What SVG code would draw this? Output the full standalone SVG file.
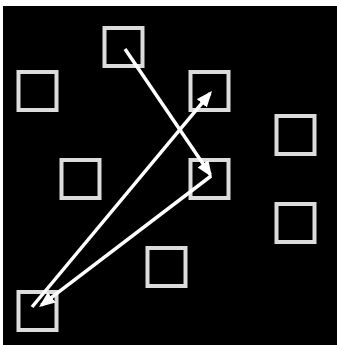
<svg xmlns="http://www.w3.org/2000/svg" width="337" height="345" viewBox="0 0 337 345">
<style>
.sq{fill:none;stroke:#dcdcdc;stroke-width:4}
.ln{stroke:#ffffff;stroke-width:3.5;fill:none}
</style>
<defs>
<marker id="ah" markerUnits="userSpaceOnUse" markerWidth="17" markerHeight="14" refX="13" refY="7" orient="auto">
<path d="M0,0.5 L16,7 L0,13.5 z" fill="#ffffff"/>
</marker>
</defs>
<rect x="0" y="0" width="337" height="345" fill="#ffffff"/>
<rect x="3" y="6" width="334" height="339" fill="#000000"/>
<g id="n1"><rect class="sq" x="104.5" y="28" width="38" height="38"/></g>
<g id="n2"><rect class="sq" x="18.5" y="72" width="38" height="38"/></g>
<g id="n3"><rect class="sq" x="190.5" y="72" width="38" height="38"/></g>
<g id="n4"><rect class="sq" x="276.5" y="116" width="38" height="38"/></g>
<g id="n5"><rect class="sq" x="61.5" y="160" width="38" height="38"/></g>
<g id="n6"><rect class="sq" x="190.5" y="160" width="38" height="38"/></g>
<g id="n7"><rect class="sq" x="276.5" y="204" width="38" height="38"/></g>
<g id="n8"><rect class="sq" x="147.5" y="248" width="38" height="38"/></g>
<g id="n9"><rect class="sq" x="18.5" y="292" width="38" height="38"/></g>
<g id="connectors">
<line class="ln" x1="125" y1="49" x2="210.3" y2="174.5" marker-end="url(#ah)"/>
<line class="ln" x1="32" y1="307" x2="210.1" y2="93.3" marker-end="url(#ah)"/>
<line class="ln" x1="211" y1="176" x2="41.4" y2="305.2" marker-end="url(#ah)"/>
</g>
</svg>
